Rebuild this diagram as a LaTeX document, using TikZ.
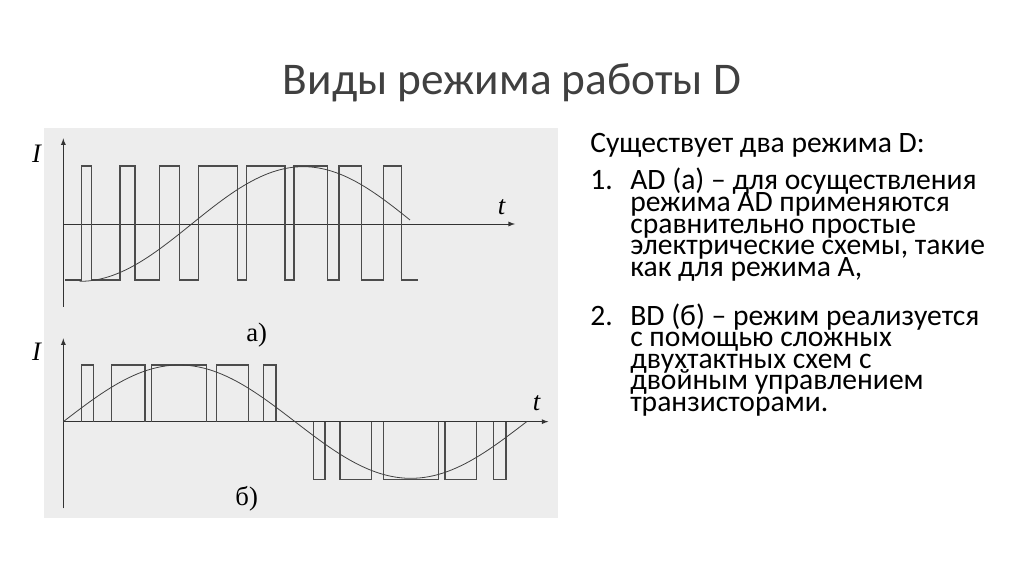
\documentclass[tikz,border=0pt]{standalone}
\usepackage{fontspec}
\setmainfont{Carlito}
\newfontfamily\serif{Liberation Serif}
\begin{document}
\begin{tikzpicture}[x=0.75pt,y=-0.75pt,
  ln/.style={line width=0.6pt,draw=black!75},
  wv/.style={line width=0.9pt,draw=black!70},
  ax/.style={line width=0.7pt,draw=black!80,-latex},
  lab/.style={font=\serif\itshape\fontsize{20}{20}\selectfont},
  txt/.style={anchor=base west,inner sep=0pt,font=\fontsize{22.2}{16.2}\selectfont}]
\useasboundingbox (0,0) rectangle (1024,574);
\fill[white] (0,0) rectangle (1024,574);
\fill[black!7] (44,128) rectangle (558,518);
\node[font=\fontsize{34}{34}\selectfont,text=black!75] (title) at (512,83) {Виды режима работы D};
% top plot
\begin{scope}[shift={(40,125)},x=0.25pt,y=-0.25pt]
\draw[ax] (70,545) -- (70,40) coordinate (ya);
\draw[ax] (70,297) -- (1425,297) coordinate (xa);
\draw[wv] (75,465) -- (125,465) -- (125,123) -- (155,123) -- (155,465) -- (240,465) -- (240,123) -- (285,123) -- (285,465) -- (358,465) -- (358,123) -- (418,123) -- (418,465) -- (475,465) -- (475,123) -- (593,123) -- (593,465) -- (620,465) -- (620,123) -- (735,123) -- (735,465) -- (762,465) -- (762,123) -- (862,123) -- (862,465) -- (897,465) -- (897,123) -- (965,123) -- (965,465) -- (1030,465) -- (1030,123) -- (1085,123) -- (1085,465) -- (1135,465);
\draw[ln] (75,465) -- (120,465) -- plot[domain=120:1110,samples=80] (\x,{297+172*cos((\x-120)*0.26866)});
\node[lab] (t1) at (1385,245) {t};
\node[lab] (I1) at (-10,85) {I};
\end{scope}
% bottom plot
\begin{scope}[shift={(40,320)},x=0.25pt,y=-0.25pt]
\draw[ax] (70,565) -- (70,55);
\draw[ax] (70,305) -- (1525,305);
\foreach \a/\b in {125/160,215/315,335/500,530/625,670/708}
  \draw[wv] (\a,305) -- (\a,135) -- (\b,135) -- (\b,305);
\foreach \a/\b in {820/855,900/995,1030/1195,1215/1310,1360/1398}
  \draw[wv] (\a,305) -- (\a,478) -- (\b,478) -- (\b,305);
\draw[ln] plot[domain=70:1460,samples=100] (\x,{305-170*sin((\x-70)*0.258993)});
\node[lab] (t2) at (1490,250) {t};
\node[lab] (I2) at (-10,95) {I};
\node[font=\serif\fontsize{20}{20}\selectfont] (a) at (650,45) {а)};
\node[font=\serif\fontsize{20}{20}\selectfont] (b) at (620,535) {б)};
\end{scope}
% text
\node[txt] (h) at (590,153) {Существует два режима D:};
\node[txt] (n1) at (590,190) {1.};
\foreach \s [count=\i from 0] in {AD (а) – для осуществления,режима AD применяются,сравнительно простые,{электрические схемы, такие},{как для режима А,}}
  \node[txt] (p1-\i) at (630,190+21.5*\i) {\s};
\node[txt] (n2) at (590,325) {2.};
\foreach \s [count=\i from 0] in {BD (б) – режим реализуется,с помощью сложных,двухтактных схем с,двойным управлением,транзисторами.}
  \node[txt] (p2-\i) at (630,325+21.5*\i) {\s};
\end{tikzpicture}
\end{document}
